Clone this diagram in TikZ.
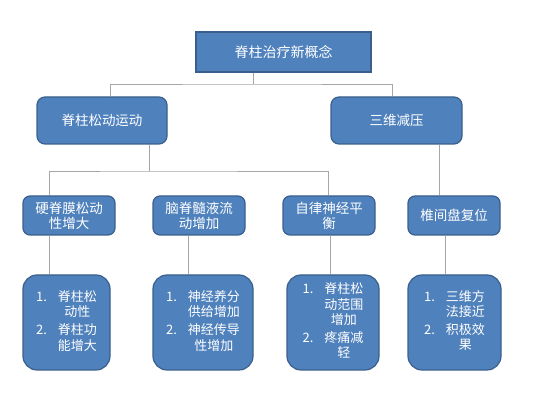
\documentclass[tikz,border=0pt]{standalone}
\usepackage{fontspec}
\newfontfamily\cjk{Noto Sans CJK SC}
\usetikzlibrary{positioning,calc}
\definecolor{boxblue}{HTML}{4F81BD}
\definecolor{boxedge}{HTML}{3A5F8C}
\definecolor{linkgray}{HTML}{A6A6A6}

\begin{document}
\begin{tikzpicture}[
    x=1pt, y=-1pt,
    line/.style={draw=linkgray, line width=0.8pt},
    box/.style={
        draw=boxedge, fill=boxblue,
        line width=1.2pt,
        text=white,
        align=center,
        inner sep=1pt
    },
    head/.style={
        box,
        minimum width=175pt,
        minimum height=40pt,
        font=\cjk\fontsize{14}{16}\selectfont
    },
    branch/.style={
        box, rounded corners=8pt,
        minimum width=130pt,
        minimum height=47pt,
        font=\cjk\fontsize{13.5}{16}\selectfont
    },
    effect/.style={
        box, rounded corners=7pt,
        minimum width=92pt,
        minimum height=39pt,
        font=\cjk\fontsize{13.5}{15}\selectfont
    },
    result/.style={
        box, rounded corners=14pt,
        minimum height=95pt,
        font=\cjk\fontsize{13}{15.5}\selectfont
    }
]
\useasboundingbox (0,0) rectangle (558,419);

% Top
\node[head] (concept) at (283.5,52) {脊柱治疗新概念};

% Branches
\node[branch] (mobil)  at (102,120.5) {脊柱松动运动};
\node[branch, minimum width=131pt] (decomp) at (396.5,120.5) {三维减压};

% Effects
\node[effect] (dura) at (69,215.5)  {硬脊膜松动\\性增大};
\node[effect] (csf)  at (199,215.5) {脑脊髓液流\\动增加};
\node[effect] (auto) at (329,215.5) {自律神经平\\衡};
\node[effect] (disc) at (454,215.5) {椎间盘复位};

% Results
\node[result, minimum width=87pt] (e1) at (66.5,322.5) {%
\begin{tabular}{@{}l@{\hspace{11pt}}c@{}}
1. & 脊柱松\\
   & 动性\\[2pt]
2. & 脊柱功\\
   & 能增大
\end{tabular}};
\node[result, minimum width=100pt] (e2) at (203,322.5) {%
\begin{tabular}{@{}l@{\hspace{11pt}}c@{}}
1. & 神经养分\\
   & 供给增加\\[2pt]
2. & 神经传导\\
   & 性增加
\end{tabular}};
\node[result, minimum width=92pt] (e3) at (333,322.5) {%
\begin{tabular}{@{}l@{\hspace{11pt}}c@{}}
1. & 脊柱松\\
   & 动范围\\
   & 增加\\[2pt]
2. & 疼痛减\\
   & 轻
\end{tabular}};
\node[result, minimum width=93pt] (e4) at (454.5,322.5) {%
\begin{tabular}{@{}l@{\hspace{11pt}}c@{}}
1. & 三维方\\
   & 法接近\\[2pt]
2. & 积极效\\
   & 果
\end{tabular}};

% top connectors
\coordinate (j1) at (253,84);
\draw[line] (concept.south -| j1) -- (j1);
\draw[line] ([xshift=8pt]mobil.north) |- (j1) -| ([xshift=-4.5pt]decomp.north);

% branch connectors
\coordinate (j2) at (149,171);
\draw[line] (mobil.south -| j2) -- (j2);
\draw[line] ([xshift=-20pt]dura.north) |- (j2) -| ([xshift=-1pt]auto.north);
\draw[line] ([xshift=42.5pt]decomp.south) -- ([xshift=42.5pt]decomp.south |- disc.north);

% lower connectors
\draw[line] ([xshift=-20pt]dura.south) -- ([xshift=-20pt]dura.south |- e1.north);
\draw[line] ([xshift=-11pt]csf.south) -- ([xshift=-11pt]csf.south |- e2.north);
\draw[line] ([xshift=1pt]auto.south) -- ([xshift=1pt]auto.south |- e3.north);
\draw[line] ([xshift=-9pt]disc.south) -- ([xshift=-9pt]disc.south |- e4.north);

\end{tikzpicture}
\end{document}
